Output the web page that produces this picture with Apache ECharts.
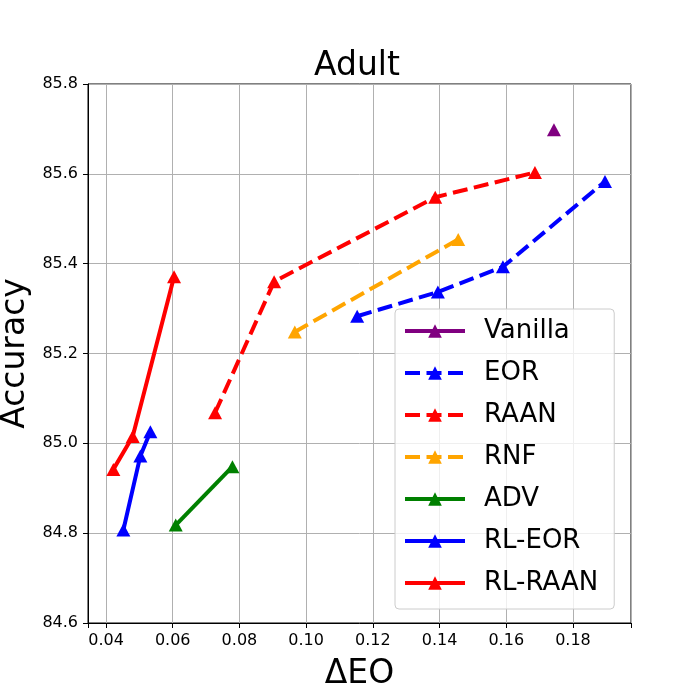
<!DOCTYPE html>
<html>
<head>
	<meta charset="UTF-8">
	<title>Adult</title>
	<script src="https://cdn.jsdelivr.net/npm/echarts@6/dist/echarts.min.js"></script>
	<style>
		html, body { margin: 0; padding: 0; background: #fff; }
		#main { width: 700px; height: 700px; }
	</style>
</head>
<body>
<div id="main"></div>
<script type="text/javascript">
    // points: [ΔEO, Accuracy]
    var vanilla = [[0.1743, 85.698]];
    var eor = [[0.1153, 85.283], [0.1395, 85.337], [0.1590, 85.393], [0.1896, 85.583]];
    var raan = [[0.0727, 85.068], [0.0904, 85.360], [0.1387, 85.548], [0.1686, 85.603]];
    var rnf = [[0.0966, 85.248], [0.1456, 85.454]];
    var adv = [[0.0609, 84.818], [0.0779, 84.948]];
    var rlEor = [[0.0452, 84.807], [0.0503, 84.972], [0.0533, 85.026]];
    var rlRaan = [[0.0422, 84.942], [0.0480, 85.015], [0.0604, 85.371]];

    var xRange = [0.0346, 0.1974];
    var yRange = [84.6, 85.8];
    var yStep = 0.2;

    var font = 'DejaVu Sans';
    var dash = [15, 6.5];

    function line(name, data, color, dashed) {
        return {
            name: name,
            type: 'line',
            data: data,
            symbol: 'triangle',
            symbolSize: [14, 13],
            showSymbol: true,
            itemStyle: {color: color},
            lineStyle: {color: color, width: 4, type: dashed ? dash : 'solid'},
            emphasis: {disabled: true},
            animation: false
        };
    }

    var myChart = echarts.init(document.getElementById('main'));

    myChart.setOption({
        backgroundColor: '#fff',
        animation: false,
        title: {
            text: 'Adult',
            left: 314,
            top: 50,
            padding: 0,
            textStyle: {fontFamily: font, fontSize: 33, fontWeight: 'normal', color: '#000'}
        },
        grid: {
            left: 88, right: 69, top: 84, bottom: 77,
            outerBoundsMode: 'none',
            containLabel: false,
            show: true, borderColor: '#000', borderWidth: 1
        },
        legend: {
            orient: 'vertical',
            left: 395,
            top: 309,
            padding: [8, 16, 12, 8],
            itemWidth: 60,
            itemHeight: 17,
            itemGap: 14,
            backgroundColor: 'rgba(255,255,255,0.8)',
            borderColor: '#cccccc',
            borderWidth: 1,
            borderRadius: 4,
            z: 10,
            lineStyle: {width: 4},
            textStyle: {fontFamily: font, fontSize: 26, color: '#000', padding: [0, 0, 0, 14], lineHeight: 28},
            data: ['Vanilla', 'EOR', 'RAAN', 'RNF', 'ADV', 'RL-EOR', 'RL-RAAN']
        },
        xAxis: {
            type: 'value',
            min: xRange[0],
            max: xRange[1],
            splitNumber: 8,
            name: 'ΔEO',
            nameLocation: 'middle',
            nameGap: 35,
            nameTextStyle: {fontFamily: font, fontSize: 33, color: '#000'},
            axisLine: {show: true, onZero: false, lineStyle: {color: '#000', width: 1}},
            axisTick: {show: true, length: 5, lineStyle: {color: '#000'}},
            axisLabel: {
                fontFamily: font, fontSize: 16, color: '#000', margin: 10,
                formatter: function (v) {
                    var k = v / 0.02;
                    return Math.abs(k - Math.round(k)) < 1e-6 ? v.toFixed(2) : '';
                }
            },
            splitLine: {show: true, lineStyle: {color: '#b0b0b0', width: 1}}
        },
        yAxis: {
            type: 'value',
            min: yRange[0],
            max: yRange[1],
            interval: yStep,
            name: 'Accuracy',
            nameLocation: 'middle',
            nameRotate: 90,
            nameGap: 48,
            nameTextStyle: {fontFamily: font, fontSize: 33, color: '#000'},
            axisLine: {show: true, onZero: false, lineStyle: {color: '#000', width: 1}},
            axisTick: {show: true, length: 5, lineStyle: {color: '#000'}},
            axisLabel: {
                fontFamily: font, fontSize: 16, color: '#000', margin: 10,
                formatter: function (v) { return v.toFixed(1); }
            },
            splitLine: {show: true, lineStyle: {color: '#b0b0b0', width: 1}}
        },
        series: [
            line('Vanilla', vanilla, '#800080', false),
            line('EOR', eor, '#0000ff', true),
            line('RAAN', raan, '#ff0000', true),
            line('RNF', rnf, '#ffa500', true),
            line('ADV', adv, '#008000', false),
            line('RL-EOR', rlEor, '#0000ff', false),
            line('RL-RAAN', rlRaan, '#ff0000', false)
        ]
    });
</script>
</body>
</html>
